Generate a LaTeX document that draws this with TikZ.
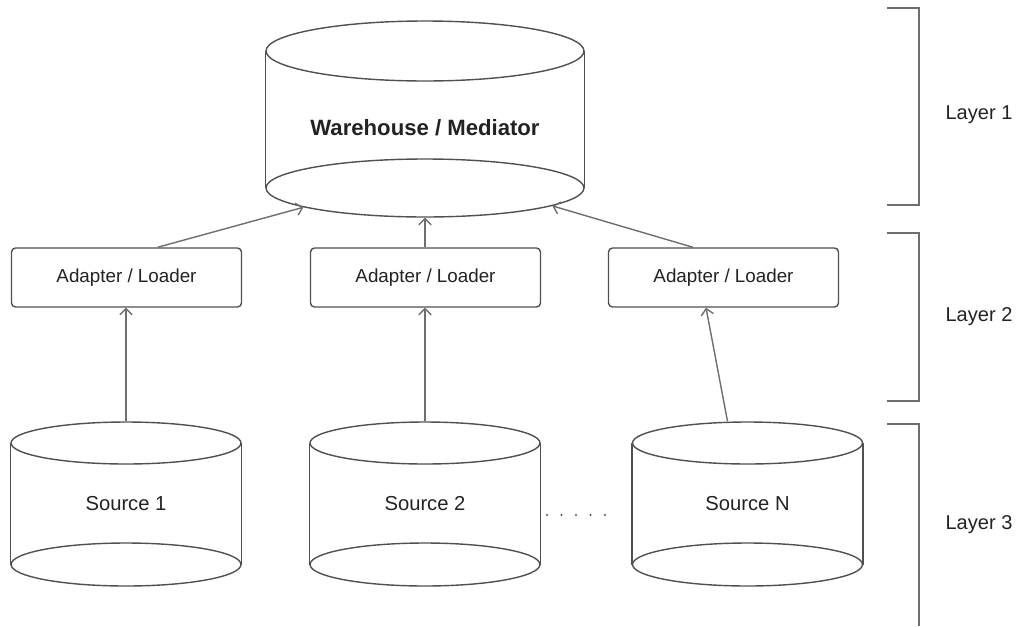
\documentclass[tikz,border=0pt]{standalone}
\usepackage{fontspec}
\setmainfont{Liberation Sans}
\usetikzlibrary{shapes.geometric,arrows.meta}

\definecolor{edgegray}{HTML}{505050}
\definecolor{arrowgray}{HTML}{6E6E6E}
\definecolor{textdark}{HTML}{222222}

\tikzset{
  disc/.style={ellipse,draw=edgegray,line width=0.8pt,inner sep=0pt},
  loaderbox/.style={rectangle,draw=edgegray,line width=0.8pt,rounded corners=0.08cm,
    minimum width=4.6cm,minimum height=1.18cm,inner sep=0pt,
    font=\fontsize{10.7}{12}\selectfont,text=textdark},
  cyltext/.style={font=\fontsize{11.5}{13}\selectfont,text=textdark},
  layertext/.style={font=\fontsize{11.4}{13}\selectfont,text=textdark},
  feed/.style={draw=arrowgray,line width=0.8pt,-{Straight Barb[length=3.5pt,width=7pt]}},
  bracket/.style={draw=arrowgray,line width=0.9pt}
}

\begin{document}
\begin{tikzpicture}[x=0.02cm,y=-0.02cm]

  \useasboundingbox (0,0) rectangle (1017,626);

  % warehouse / mediator
  \node[disc,minimum width=6.36cm,minimum height=1.2cm] (wh-top) at (425,51) {};
  \node[disc,minimum width=6.36cm,minimum height=1.16cm] (wh-bot) at (425,188) {};
  \draw[edgegray,line width=0.8pt] (wh-top.west) -- (wh-bot.west);
  \draw[edgegray,line width=0.8pt] (wh-top.east) -- (wh-bot.east);
  \node[font=\bfseries\fontsize{12.6}{14}\selectfont,text=textdark] (wh) at (425,128) {Warehouse / Mediator};

  % adapters
  \node[loaderbox] (ad1) at (126.5,277.5) {Adapter / Loader};
  \node[loaderbox] (ad2) at (425.5,277.5) {Adapter / Loader};
  \node[loaderbox] (ad3) at (723.5,277.5) {Adapter / Loader};

  % sources
  \foreach \n/\cx in {1/126,2/425,N/747.5} {
    \node[disc,minimum width=4.6cm,minimum height=0.84cm] (src\n-top) at (\cx,443) {};
    \node[disc,minimum width=4.6cm,minimum height=0.86cm] (src\n-bot) at (\cx,564.5) {};
    \draw[edgegray,line width=0.8pt] (src\n-top.west) -- (src\n-bot.west);
    \draw[edgegray,line width=0.8pt] (src\n-top.east) -- (src\n-bot.east);
    \node[cyltext] (src\n) at (\cx,504) {Source \n};
  }

  \foreach \i in {0,...,4} {
    \fill[edgegray] (547+14.5*\i,515) circle (1.1);
  }

  % arrows
  \draw[feed] (src1-top.north) -- (src1-top.north |- ad1.south);
  \draw[feed] (src2-top.north) -- (src2-top.north |- ad2.south);
  \draw[feed] ([xshift=-0.4cm]srcN-top.north) -- ([xshift=-0.35cm]ad3.south);

  \draw[feed] ([xshift=0.62cm]ad1.north) -- (wh-bot.189);
  \draw[feed] (ad2.north -| wh-bot.south) -- (wh-bot.south);
  \draw[feed] ([xshift=-0.61cm]ad3.north) -- (wh-bot.352.5);

  % layers
  \draw[bracket] (887,8) -- (919,8) -- (919,205) -- (887,205);
  \draw[bracket] (887,233) -- (919,233) -- (919,401) -- (887,401);
  \draw[bracket] (887,424) -- (919,424) -- (919,626);

  \node[layertext] (l1) at (979,115) {Layer 1};
  \node[layertext] (l2) at (979,317) {Layer 2};
  \node[layertext] (l3) at (979,525) {Layer 3};

\end{tikzpicture}
\end{document}
